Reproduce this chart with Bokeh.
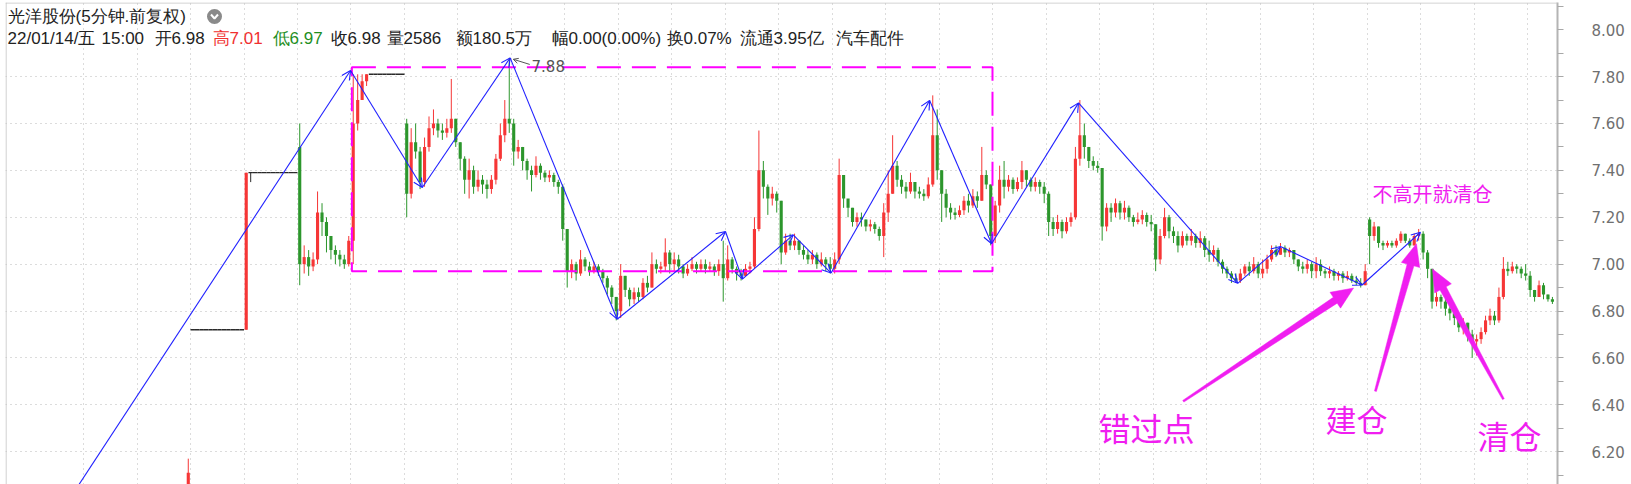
import math
import numpy as np
from bokeh.plotting import figure
from bokeh.models import (ColumnDataSource, FixedTicker, Grid, Span, Label, Arrow,
                          OpenHead, PrintfTickFormatter)
from bokeh.embed import file_html
from bokeh.resources import INLINE

# ---------------------------------------------------------------- data
# bar index: 12 bars per trading day, day k starts at bar 12*k
FIRST_BAR = 35
FIRST_OPEN = 6.03

CLOSE = [
    6.11,
    6.72, 6.72, 6.72, 6.72, 6.72, 6.72, 6.72, 6.72, 6.72, 6.72, 6.72, 6.72,
    7.39, 7.39, 7.39, 7.39, 7.39, 7.39, 7.39, 7.39, 7.39, 7.39, 7.39, 7.39,
    7.00, 7.03, 6.99, 7.02, 7.22, 7.18, 7.12, 7.06, 7.04, 7.02, 7.00, 7.10,
    7.60, 7.70, 7.78, 7.81, 7.81, 7.81, 7.81, 7.81, 7.81, 7.81, 7.81, 7.81,
    7.30, 7.52, 7.48, 7.35, 7.50, 7.58, 7.60, 7.57, 7.56, 7.58, 7.62, 7.52,
    7.45, 7.36, 7.40, 7.33, 7.36, 7.34, 7.32, 7.36, 7.45, 7.55, 7.62, 7.60,
    7.48, 7.50, 7.44, 7.40, 7.38, 7.42, 7.39, 7.37, 7.38, 7.35, 7.33, 7.15,
    6.97, 7.00, 6.96, 7.02, 6.99, 6.97, 6.99, 6.97, 6.94, 6.90, 6.86, 6.80,
    6.95, 6.89, 6.85, 6.88, 6.86, 6.92, 6.90, 7.00, 6.98, 6.99, 7.05, 7.00,
    7.02, 6.99, 6.96, 6.98, 7.00, 6.98, 7.00, 6.98, 6.99, 6.97, 7.00, 6.94,
    7.02, 6.98, 6.96, 6.95, 6.98, 6.99, 7.15, 7.40, 7.33, 7.28, 7.30, 7.27,
    7.05, 7.10, 7.08, 7.10, 7.06, 7.04, 7.02, 7.04, 7.00, 7.02, 7.00, 6.98,
    7.02, 7.38, 7.28, 7.24, 7.18, 7.20, 7.19, 7.16, 7.17, 7.15, 7.12, 7.22,
    7.30, 7.42, 7.36, 7.33, 7.31, 7.35, 7.31, 7.30, 7.29, 7.34, 7.55, 7.40,
    7.30, 7.24, 7.22, 7.21, 7.23, 7.27, 7.25, 7.29, 7.27, 7.38, 7.34, 7.12,
    7.25, 7.36, 7.33, 7.36, 7.32, 7.35, 7.40, 7.36, 7.33, 7.35, 7.33, 7.30,
    7.18, 7.15, 7.18, 7.14, 7.18, 7.20, 7.45, 7.55, 7.50, 7.44, 7.42, 7.41,
    7.16, 7.24, 7.22, 7.26, 7.22, 7.24, 7.20, 7.18, 7.19, 7.21, 7.18, 7.17,
    7.02, 7.12, 7.20, 7.14, 7.12, 7.08, 7.12, 7.10, 7.12, 7.09, 7.11, 7.06,
    7.04, 7.06, 7.01, 6.98, 6.96, 6.94, 6.93, 6.96, 6.99, 6.97, 7.00, 6.96,
    6.98, 7.02, 7.06, 7.04, 7.07, 7.05, 7.06, 7.02, 6.99, 6.98, 7.00, 6.97,
    7.00, 6.97, 6.96, 6.97, 6.95, 6.96, 6.94, 6.95, 6.93, 6.92, 6.91, 6.97,
    7.12, 7.16, 7.09, 7.08, 7.09, 7.08, 7.10, 7.13, 7.10, 7.08, 7.12, 7.13,
    7.05, 6.98, 6.84, 6.86, 6.84, 6.81, 6.79, 6.77, 6.73, 6.75, 6.70, 6.67,
    6.68, 6.71, 6.76, 6.78, 6.76, 6.86, 6.98, 6.97, 6.99, 6.98, 6.96, 6.95,
    6.89, 6.86, 6.91, 6.87, 6.85, 6.84,
]
HIGH = [
    6.17,
    6.72, 6.72, 6.72, 6.72, 6.72, 6.72, 6.72, 6.72, 6.72, 6.72, 6.72, 6.72,
    7.39, 7.39, 7.39, 7.39, 7.39, 7.39, 7.39, 7.39, 7.39, 7.39, 7.39, 7.39,
    7.60, 7.08, 7.06, 7.05, 7.31, 7.26, 7.20, 7.12, 7.08, 7.06, 7.04, 7.12,
    7.81, 7.81, 7.81, 7.81, 7.81, 7.81, 7.81, 7.81, 7.81, 7.81, 7.81, 7.81,
    7.62, 7.58, 7.60, 7.50, 7.54, 7.63, 7.66, 7.62, 7.60, 7.62, 7.79, 7.62,
    7.52, 7.46, 7.45, 7.42, 7.40, 7.38, 7.36, 7.38, 7.47, 7.60, 7.70, 7.88,
    7.62, 7.53, 7.50, 7.45, 7.42, 7.46, 7.43, 7.40, 7.40, 7.39, 7.36, 7.34,
    7.15, 7.02, 7.01, 7.06, 7.03, 7.01, 7.01, 7.00, 6.98, 6.95, 6.91, 6.86,
    7.00, 6.95, 6.90, 6.90, 6.90, 6.94, 6.95, 7.05, 7.02, 7.01, 7.11, 7.06,
    7.05, 7.04, 7.00, 7.00, 7.03, 7.01, 7.02, 7.02, 7.01, 7.00, 7.02, 7.10,
    7.08, 7.03, 6.99, 6.98, 7.00, 7.01, 7.20, 7.57, 7.44, 7.34, 7.33, 7.31,
    7.27, 7.13, 7.13, 7.13, 7.10, 7.08, 7.06, 7.06, 7.05, 7.05, 7.03, 7.03,
    7.05, 7.45, 7.36, 7.27, 7.24, 7.22, 7.22, 7.19, 7.19, 7.18, 7.16, 7.26,
    7.40, 7.55, 7.44, 7.38, 7.35, 7.39, 7.35, 7.33, 7.32, 7.37, 7.72, 7.66,
    7.40, 7.32, 7.26, 7.24, 7.25, 7.29, 7.30, 7.32, 7.31, 7.50, 7.40, 7.34,
    7.27, 7.42, 7.44, 7.38, 7.37, 7.37, 7.44, 7.40, 7.37, 7.37, 7.36, 7.35,
    7.31, 7.20, 7.21, 7.19, 7.20, 7.22, 7.50, 7.70, 7.60, 7.50, 7.46, 7.44,
    7.40, 7.26, 7.26, 7.28, 7.27, 7.27, 7.25, 7.21, 7.22, 7.23, 7.22, 7.21,
    7.17, 7.15, 7.24, 7.21, 7.16, 7.14, 7.14, 7.13, 7.15, 7.13, 7.14, 7.12,
    7.10, 7.08, 7.07, 7.02, 6.99, 6.97, 6.96, 6.98, 7.00, 7.01, 7.03, 7.01,
    7.02, 7.04, 7.08, 7.08, 7.09, 7.08, 7.07, 7.06, 7.02, 7.01, 7.02, 7.01,
    7.03, 7.02, 6.98, 6.99, 6.98, 6.97, 6.97, 6.97, 6.96, 6.95, 6.94, 7.00,
    7.20, 7.18, 7.16, 7.10, 7.10, 7.10, 7.11, 7.14, 7.13, 7.11, 7.13, 7.15,
    7.14, 7.06, 6.98, 6.88, 6.87, 6.85, 6.82, 6.80, 6.77, 6.77, 6.75, 6.72,
    6.70, 6.73, 6.78, 6.81, 6.80, 6.90, 7.03, 7.01, 7.01, 7.00, 6.99, 7.00,
    6.97, 6.89, 6.93, 6.92, 6.87, 6.86,
]
LOW = [
    6.01,
    6.72, 6.72, 6.72, 6.72, 6.72, 6.72, 6.72, 6.72, 6.72, 6.72, 6.72, 6.72,
    6.72, 7.35, 7.39, 7.39, 7.39, 7.39, 7.39, 7.39, 7.39, 7.39, 7.39, 7.39,
    6.91, 6.96, 6.95, 6.97, 7.00, 7.12, 7.05, 7.02, 7.00, 6.99, 6.98, 6.99,
    7.00, 7.57, 7.72, 7.76, 7.81, 7.81, 7.81, 7.81, 7.81, 7.81, 7.81, 7.81,
    7.20, 7.28, 7.45, 7.32, 7.33, 7.48, 7.55, 7.54, 7.53, 7.54, 7.56, 7.50,
    7.40, 7.30, 7.28, 7.30, 7.31, 7.30, 7.28, 7.30, 7.34, 7.44, 7.52, 7.56,
    7.42, 7.45, 7.40, 7.36, 7.31, 7.37, 7.36, 7.35, 7.35, 7.33, 7.30, 7.10,
    6.90, 6.94, 6.93, 6.95, 6.97, 6.95, 6.96, 6.95, 6.92, 6.87, 6.83, 6.76,
    6.77, 6.86, 6.82, 6.83, 6.84, 6.85, 6.88, 6.90, 6.96, 6.96, 6.97, 6.96,
    6.97, 6.96, 6.94, 6.95, 6.97, 6.96, 6.97, 6.96, 6.97, 6.95, 6.95, 6.84,
    6.93, 6.96, 6.93, 6.93, 6.95, 6.96, 6.98, 7.14, 7.28, 7.21, 7.25, 7.22,
    7.00, 7.04, 7.06, 7.06, 7.04, 7.02, 7.00, 7.00, 6.98, 6.99, 6.97, 6.96,
    6.96, 7.00, 7.24, 7.20, 7.16, 7.16, 7.16, 7.14, 7.14, 7.13, 7.10, 7.03,
    7.18, 7.30, 7.33, 7.30, 7.28, 7.30, 7.28, 7.28, 7.27, 7.28, 7.33, 7.36,
    7.18, 7.20, 7.19, 7.19, 7.20, 7.21, 7.22, 7.24, 7.24, 7.27, 7.32, 7.08,
    7.09, 7.22, 7.28, 7.31, 7.30, 7.31, 7.32, 7.33, 7.31, 7.31, 7.30, 7.26,
    7.12, 7.12, 7.13, 7.11, 7.13, 7.16, 7.19, 7.42, 7.45, 7.41, 7.40, 7.39,
    7.10, 7.14, 7.18, 7.20, 7.19, 7.19, 7.18, 7.16, 7.17, 7.17, 7.16, 7.14,
    6.97, 7.00, 7.11, 7.11, 7.09, 7.05, 7.07, 7.08, 7.08, 7.07, 7.07, 7.03,
    7.01, 7.01, 6.99, 6.96, 6.94, 6.92, 6.92, 6.92, 6.95, 6.95, 6.96, 6.94,
    6.94, 6.96, 7.01, 7.03, 7.04, 7.03, 7.03, 7.00, 6.97, 6.96, 6.96, 6.94,
    6.94, 6.95, 6.94, 6.94, 6.93, 6.93, 6.92, 6.93, 6.92, 6.91, 6.90, 6.91,
    7.00, 7.10, 7.07, 7.06, 7.07, 7.07, 7.07, 7.09, 7.09, 7.07, 7.08, 7.10,
    7.02, 6.94, 6.81, 6.82, 6.81, 6.78, 6.76, 6.74, 6.71, 6.70, 6.67, 6.60,
    6.61, 6.66, 6.70, 6.74, 6.74, 6.75, 6.85, 6.95, 6.96, 6.96, 6.94, 6.93,
    6.86, 6.84, 6.86, 6.85, 6.84, 6.83,
]
# opening gaps (bar index -> open price)
GAP_BARS = [36, 60, 84, 300]
GAP_OPENS = [6.72, 7.50, 7.60, 7.19]

# zig-zag swing points (bar index, price)
ZZ_BAR = [7.2, 71.9, 88.0, 107.7, 131.7, 156.0, 159.8, 171.2, 179.7,
          201.8, 215.7, 235.2, 270.9, 280.5, 298.8, 311.9]
ZZ_PRICE = [5.95, 7.826, 7.327, 7.88, 6.765, 7.139, 6.936, 7.125, 6.962,
            7.698, 7.087, 7.688, 6.918, 7.075, 6.911, 7.136]

# consolidation box
BOX_BAR = [72.2, 215.9]
BOX_PRICE = [6.97, 7.84]

# hand-drawn pointers: (tail bar, tail price, tip bar, tip price)
MISS_ARROW = [258.7, 6.415, 296.9, 6.898]
BUY_ARROW = [301.8, 6.458, 311.0, 7.087]
SELL_ARROW = [330.5, 6.424, 314.6, 6.979]

Y_TICKS = [6.2, 6.4, 6.6, 6.8, 7.0, 7.2, 7.4, 7.6, 7.8, 8.0]

TITLE = "光洋股份(5分钟.前复权)"
INFO = ["22/01/14/五", "15:00", "开6.98", "高7.01", "低6.97", "收6.98", "量2586",
        "额180.5万", "幅0.00(0.00%)", "换0.07%", "流通3.95亿", "汽车配件"]

# ---------------------------------------------------------------- style
RED = "#f63636"
GREEN = "#2c962c"
DOJI = "#2a2a2a"
BLUE = "#2020ff"
MAGENTA = "#f01ef0"
GRID = "#b9b9b9"
CJK = "Noto Sans CJK SC"
HEAD_FONT = "Liberation Sans"

X0, X1 = -5.5, 342.64
Y0, Y1 = 6.0598, 8.1162
FRAME_W, FRAME_H = 1552, 482
PXB = FRAME_W / (X1 - X0)      # pixels per bar
PXP = FRAME_H / (Y1 - Y0)      # pixels per price unit


def px_bar(px):
    return X0 + (px - 5) / PXB


def py_price(py):
    return Y1 - (py - 2) / PXP


# ---------------------------------------------------------------- candles
n = len(CLOSE)
bars = np.arange(FIRST_BAR, FIRST_BAR + n) + 0.5
close = np.array(CLOSE)
high = np.array(HIGH)
low = np.array(LOW)
opens = np.array([FIRST_OPEN] + CLOSE[:-1])
for b, o in zip(GAP_BARS, GAP_OPENS):
    opens[b - FIRST_BAR] = o

up = close > opens + 1e-9
down = close < opens - 1e-9
flat = ~(up | down)
colors = np.where(up, RED, np.where(down, GREEN, DOJI))

p = figure(width=1631, height=484, x_range=(X0, X1), y_range=(Y0, Y1),
           x_axis_location=None, y_axis_location="right",
           output_backend="svg", toolbar_location=None,
           min_border_left=5, min_border_right=74, min_border_top=2,
           min_border_bottom=0, background_fill_color="white",
           border_fill_color="white", outline_line_color=None)
p.grid.visible = False

p.add_layout(Grid(dimension=0, ticker=FixedTicker(ticks=[12 * k for k in range(1, 29)]),
                  grid_line_color=GRID, grid_line_dash="1 4", grid_line_width=1))
p.add_layout(Grid(dimension=1, ticker=FixedTicker(ticks=Y_TICKS[:-1]),
                  grid_line_color=GRID, grid_line_dash="1 4", grid_line_width=1))

ax = p.yaxis[0]
ax.ticker = FixedTicker(ticks=Y_TICKS,
                        minor_ticks=[round(t - 0.1, 1) for t in Y_TICKS] + [8.1])
ax.formatter = PrintfTickFormatter(format="%.2f")
ax.axis_line_color = "#b4b4b4"
ax.axis_line_width = 2
ax.major_tick_in = 0
ax.major_tick_out = 6
ax.minor_tick_in = 0
ax.minor_tick_out = 6
ax.major_tick_line_color = "#a8a8a8"
ax.minor_tick_line_color = "#a8a8a8"
ax.major_label_standoff = 28
ax.major_label_text_font = "DejaVu Sans"
ax.major_label_text_font_size = "15px"
ax.major_label_text_color = "#707070"

p.add_layout(Span(location=X0 + 0.12, dimension="height", line_color="#c4c4c4", line_width=1))
p.add_layout(Span(location=Y1 - 0.002, dimension="width", line_color="#c4c4c4", line_width=1))

# wicks
p.segment(x0=bars, y0=low, x1=bars, y1=high, line_color=colors, line_width=1)
# bodies
body = ~flat
p.vbar(x=bars[body], width=0.7, top=np.maximum(opens, close)[body],
       bottom=np.minimum(opens, close)[body], fill_color=colors[body], line_color=None)
# unchanged bars as short horizontal strokes
p.segment(x0=bars[flat] - 0.5, y0=close[flat], x1=bars[flat] + 0.5, y1=close[flat],
          line_color=DOJI, line_width=1.3)

# ---------------------------------------------------------------- annotations
p.quad(left=[BOX_BAR[0]], right=[BOX_BAR[1]], bottom=[BOX_PRICE[0]], top=[BOX_PRICE[1]],
       fill_color=None, line_color="#ff00ff", line_width=2, line_dash="24 11")

zz = ColumnDataSource(dict(x0=ZZ_BAR[:-1], y0=ZZ_PRICE[:-1], x1=ZZ_BAR[1:], y1=ZZ_PRICE[1:]))
p.add_layout(Arrow(end=OpenHead(size=9, line_color=BLUE, line_width=1.1),
                   x_start="x0", y_start="y0", x_end="x1", y_end="y1", source=zz,
                   line_color=BLUE, line_width=1.1))

# highest price marker
i_max = int(np.argmax(high))
p.add_layout(Arrow(end=OpenHead(size=5, line_color="#555555", line_width=1),
                   x_start=bars[i_max] + 4.6, y_start=high[i_max] - 0.028,
                   x_end=bars[i_max] + 0.9, y_end=high[i_max] - 0.006,
                   line_color="#555555", line_width=1))
p.add_layout(Label(x=bars[i_max] + 5.0, y=high[i_max] - 0.033, text="%.2f" % high[i_max],
                   text_font="DejaVu Sans", text_font_size="15px", text_color="#555555",
                   text_baseline="middle", text_align="left"))


def fat_arrow(spec, tail_w=2.0, neck_w=7.0, head_len=22.0, head_w=19.0):
    tx, ty = spec[0] * PXB, spec[1] * PXP
    hx, hy = spec[2] * PXB, spec[3] * PXP
    length = math.hypot(hx - tx, hy - ty)
    ux, uy = (hx - tx) / length, (hy - ty) / length
    nx, ny = -uy, ux
    bx, by = hx - ux * head_len, hy - uy * head_len
    pts = [(tx + nx * tail_w / 2, ty + ny * tail_w / 2),
           (bx + nx * neck_w / 2, by + ny * neck_w / 2),
           (bx + nx * head_w / 2, by + ny * head_w / 2),
           (hx, hy),
           (bx - nx * head_w / 2, by - ny * head_w / 2),
           (bx - nx * neck_w / 2, by - ny * neck_w / 2),
           (tx - nx * tail_w / 2, ty - ny * tail_w / 2)]
    return [x / PXB for x, _ in pts], [y / PXP for _, y in pts]


arrows = [fat_arrow(a) for a in (MISS_ARROW, BUY_ARROW, SELL_ARROW)]
p.patches(xs=[a[0] for a in arrows], ys=[a[1] for a in arrows],
          fill_color=MAGENTA, line_color=MAGENTA, line_width=0.5)

for txt, px, py, size in [("错过点", 1098, 426, "32px"), ("建仓", 1325, 417.5, "31px"),
                          ("清仓", 1477, 434, "32px"), ("不高开就清仓", 1372, 192.5, "20px")]:
    p.add_layout(Label(x=px_bar(px), y=py_price(py), text=txt, text_font=CJK,
                       text_font_size=size, text_color=MAGENTA,
                       text_baseline="middle", text_align="left"))

# ---------------------------------------------------------------- header
p.add_layout(Label(x=px_bar(7), y=py_price(16), text=TITLE, text_font=HEAD_FONT,
                   text_font_size="17px", text_color="#222222",
                   text_baseline="middle", text_align="left"))
p.scatter(x=[px_bar(214)], y=[py_price(16)], size=15, marker="circle",
          fill_color="#8a8a8a", line_color=None)
p.line(x=[px_bar(210.5), px_bar(214), px_bar(217.5)],
       y=[py_price(14), py_price(18), py_price(14)], line_color="white", line_width=2)

INFO_X = [7, 101, 154, 212, 272, 330, 386, 455, 551, 666, 739, 835]
INFO_COLORS = ["#222222"] * len(INFO)
INFO_COLORS[3] = "#f03030"
INFO_COLORS[4] = "#1f8f1f"
for txt, px, col in zip(INFO, INFO_X, INFO_COLORS):
    p.add_layout(Label(x=px_bar(px), y=py_price(38), text=txt, text_font=HEAD_FONT,
                       text_font_size="17px", text_color=col,
                       text_baseline="middle", text_align="left"))

open("out.html", "w").write(file_html(p, INLINE))
